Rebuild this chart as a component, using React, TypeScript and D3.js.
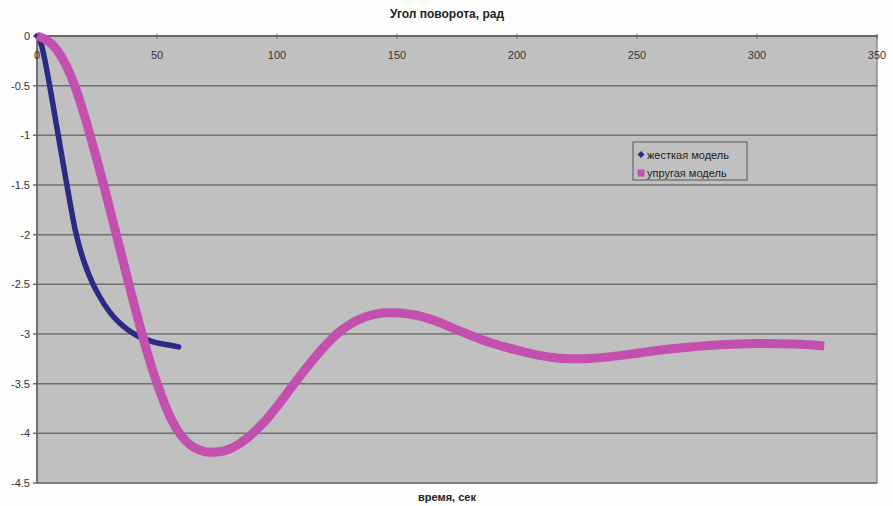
import React from "react";
import * as d3 from "d3";

const W = 893;
const H = 506;

const titleText = "Угол поворота, рад";
const xAxisTitle = "время, сек";
const seriesNames = ["жесткая модель", "упругая модель"];

const xTicks = [0, 50, 100, 150, 200, 250, 300, 350];
const yTicks = [0, -0.5, -1, -1.5, -2, -2.5, -3, -3.5, -4, -4.5];

const rigidT = [0, 1, 2, 3, 4, 5, 6, 7, 8, 9, 10, 12, 14, 16, 18, 20, 23, 26, 30, 34, 38, 42, 46, 50, 55, 59];
const rigidV = [0, -0.03, -0.1, -0.21, -0.33, -0.46, -0.6, -0.74, -0.88, -1.02, -1.16, -1.44, -1.71, -1.96, -2.15, -2.3, -2.48, -2.62, -2.77, -2.88, -2.96, -3.02, -3.06, -3.09, -3.11, -3.13];

const elasticT = [0, 4, 8, 12, 16, 20, 24, 28, 32, 36, 40, 44, 48, 52, 56, 60, 64, 68, 72, 76, 80, 84, 88, 92, 96, 100, 105, 110, 115, 120, 125, 130, 135, 140, 145, 150, 155, 160, 165, 170, 175, 180, 185, 190, 195, 200, 205, 210, 215, 220, 225, 230, 235, 240, 245, 250, 255, 260, 270, 280, 290, 300, 310, 320, 328];
const elasticV = [0, -0.04, -0.13, -0.29, -0.52, -0.82, -1.16, -1.52, -1.9, -2.28, -2.66, -3.02, -3.35, -3.63, -3.86, -4.02, -4.12, -4.17, -4.19, -4.185, -4.16, -4.11, -4.04, -3.95, -3.85, -3.73, -3.57, -3.41, -3.26, -3.12, -3.0, -2.91, -2.845, -2.805, -2.785, -2.785, -2.8, -2.822, -2.86, -2.907, -2.958, -3.008, -3.055, -3.095, -3.13, -3.163, -3.193, -3.218, -3.236, -3.247, -3.25, -3.247, -3.238, -3.225, -3.21, -3.194, -3.177, -3.161, -3.135, -3.115, -3.102, -3.096, -3.097, -3.105, -3.12];

const font = "'Liberation Sans', Arial, sans-serif";

export default function App() {
  const left = 37, right = 877, top = 36, bottom = 483;
  const x = d3.scaleLinear().domain([0, 350]).range([left, right]);
  const y = d3.scaleLinear().domain([0, -4.5]).range([top, bottom]);

  const line = d3
    .line<[number, number]>()
    .x((d) => x(d[0]))
    .y((d) => y(d[1]))
    .curve(d3.curveMonotoneX);

  const rigid: [number, number][] = rigidT.map((t, i) => [t, rigidV[i]]);
  const elastic: [number, number][] = elasticT.map((t, i) => [t, elasticV[i]]);

  const blue = "#2b2a84";
  const pink = "#c34fae";

  return (
    <svg width={W} height={H} style={{ position: "absolute", left: 0, top: 0, background: "#fdfdfd" }} fontFamily={font}>
      <rect x={0} y={0} width={W} height={H} fill="#fdfdfd" />
      <rect x={left} y={top} width={right - left} height={bottom - top} fill="#c0c0c0" stroke="#8a8a8a" strokeWidth={1.5} />
      {yTicks.map((v) => (
        <line key={"g" + v} x1={left - 4} x2={right} y1={y(v)} y2={y(v)} stroke="#707070" strokeWidth={1.5} />
      ))}
      <line x1={left} x2={left} y1={top} y2={bottom} stroke="#606060" strokeWidth={1.5} />
      <line x1={left} x2={right} y1={top} y2={top} stroke="#606060" strokeWidth={1.5} />
      {xTicks.map((v) => (
        <line key={"xt" + v} x1={x(v)} x2={x(v)} y1={top - 2} y2={top + 3} stroke="#606060" strokeWidth={1} />
      ))}
      {xTicks.map((v) => (
        <text key={"xl" + v} x={x(v)} y={59} fontSize={11} fill="#333" textAnchor="middle">
          {v}
        </text>
      ))}
      {yTicks.map((v) => (
        <text key={"yl" + v} x={30} y={y(v) + 4} fontSize={11} fill="#333" textAnchor="end">
          {v}
        </text>
      ))}
      <path d={line(rigid) || ""} fill="none" stroke={blue} strokeWidth={5.5} strokeLinecap="round" strokeLinejoin="round" />
      <path d={line(elastic) || ""} fill="none" stroke={pink} strokeWidth={9} strokeLinecap="butt" strokeLinejoin="round" />
      <text x={447} y={18} fontSize={12} fontWeight="bold" fill="#222" textAnchor="middle">
        {titleText}
      </text>
      <text x={447} y={501} fontSize={11} fontWeight="bold" fill="#222" textAnchor="middle">
        {xAxisTitle}
      </text>
      <g>
        <rect x={633} y={142} width={114} height={38} fill="#c0c0c0" stroke="#555" strokeWidth={1} />
        <path d={`M641,151 L644.5,154.5 L641,158 L637.5,154.5 Z`} fill={blue} />
        <rect x={637.5} y={169.5} width={7} height={7} fill={pink} />
        <text x={647} y={158.5} fontSize={11} fill="#222">
          {seriesNames[0]}
        </text>
        <text x={647} y={176.5} fontSize={11} fill="#222">
          {seriesNames[1]}
        </text>
      </g>
    </svg>
  );
}
